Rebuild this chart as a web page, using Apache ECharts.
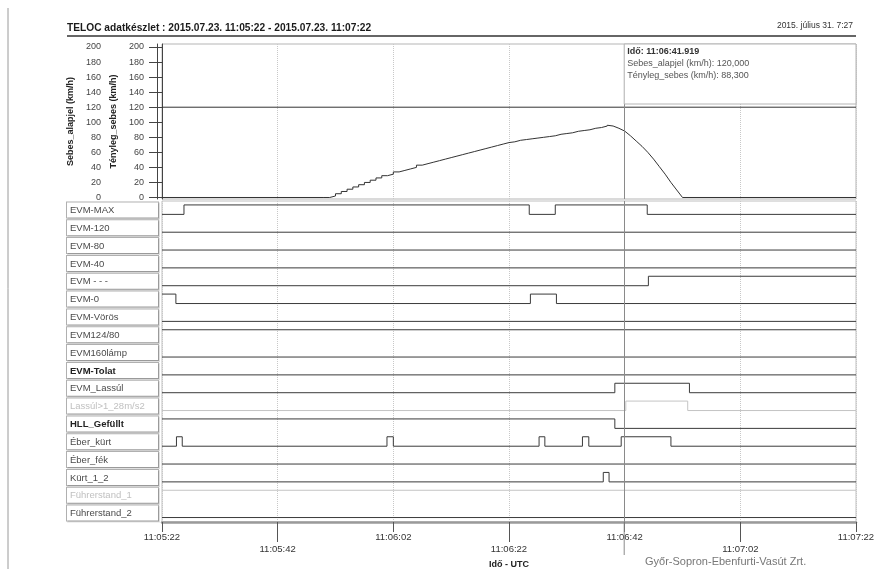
<!DOCTYPE html>
<html><head><meta charset="utf-8">
<script src="https://cdn.jsdelivr.net/npm/echarts@6/dist/echarts.min.js"></script>
<style>html,body{margin:0;padding:0;background:#fff}#c{width:894px;height:569px}</style>
</head><body><div id="c"></div>
<script>
// ---- data (time in seconds from 11:05:22) ----
const timeTickLabels = ['11:05:22','11:05:42','11:06:02','11:06:22','11:06:42','11:07:02','11:07:22'];
const speedTicks = [0,20,40,60,80,100,120,140,160,180,200];
const cursorTime = 79.919;
const cursorLabel = 'Idő: 11:06:41.919';
const cursorSetpoint = '120,000';
const cursorSpeed = '88,300';

const setpoint = [[0,120],[120,120]];
const speedRise = [[0,0],[28,0],[29,2],[30,5],[31,8],[32,11],[33,14],[34,17],[35,20],[36,23],[37,26],[38,29],[39,31],[40,34],[41,36],[42,38],[43,40],[44,43],[45,45],[46,47],[47,49],[48,51],[49,53],[50,55],[51,57],[52,59],[53,61],[54,63],[55,65],[56,67],[57,69],[58,71],[59,73],[60,74],[61,76],[62,77],[63,78],[64,79],[65,80],[66,81],[67,82],[68,84],[69,85],[70,86],[71,88],[72,89],[73,90],[74,92],[75,93],[76,95],[77,96]];
const speedBrake = [[77,96],[78,95],[79,92],[80,88.3],[81,82],[82,75],[83,68],[84,60],[85,51],[86,41],[87,31],[88,20],[89,10],[90,0],[120,0]];

const signalNames = ['EVM-MAX','EVM-120','EVM-80','EVM-40','EVM - - -','EVM-0','EVM-Vörös','EVM124/80','EVM160lámp','EVM-Tolat','EVM_Lassúl','Lassúl>1_28m/s2','HLL_Gefüllt','Éber_kürt','Éber_fék','Kürt_1_2','Führerstand_1','Führerstand_2'];
// [time, state] change points
const evmMax   = [[0,0],[3.8,1],[63.5,0],[68.0,1],[83.9,0],[120,0]];
const evm120   = [[0,0],[120,0]];
const evm80    = [[0,0],[120,0]];
const evm40    = [[0,0],[120,0]];
const evmDash  = [[0,0],[84.1,1],[120,1]];
const evm0     = [[0,1],[2.4,0],[63.7,1],[68.2,0],[120,0]];
const evmVoros = [[0,0],[120,0]];
const evm12480 = [[0,1],[120,1]];
const evm160   = [[0,0],[120,0]];
const evmTolat = [[0,0],[120,0]];
const evmLassul= [[0,0],[78.3,1],[91.2,0],[120,0]];
const lassul128= [[0,0],[80.2,1],[90.9,0],[120,0]];
const hllGef   = [[0,1],[78.3,0],[120,0]];
const eberKurt = [[0,0],[2.5,1],[3.5,0],[38.9,1],[40.0,0],[65.2,1],[66.2,0],[72.7,1],[73.8,0],[79.4,1],[88.0,0],[120,0]];
const eberFek  = [[0,0],[120,0]];
const kurt12   = [[0,0],[76.3,1],[77.3,0],[120,0]];
const fuhrer1  = [[0,1],[120,1]];
const fuhrer2  = [[0,0],[120,0]];
const signals = [evmMax,evm120,evm80,evm40,evmDash,evm0,evmVoros,evm12480,evm160,evmTolat,evmLassul,lassul128,hllGef,eberKurt,eberFek,kurt12,fuhrer1,fuhrer2];

// ---- styling ----
const F = '"Liberation Sans", Arial, sans-serif';
const N = '"Liberation Sans Narrow", "Liberation Sans", Arial, sans-serif';
const lightRows = new Set([11,16]);
const boldRows = new Set([9,12]);
const ROWS = signalNames.length;

const chart = echarts.init(document.getElementById('c'), null, {renderer:'canvas'});

const cursorLine = {
  silent:true, symbol:'none', label:{show:false}, animation:false,
  lineStyle:{color:'#8a8a8a', type:'solid', width:1},
  data:[{xAxis:cursorTime}]
};

const digitalSeries = signals.map((sig, i) => ({
  name: signalNames[i], type:'line', xAxisIndex:1, yAxisIndex:2, step:'end',
  symbol:'none', silent:true,
  lineStyle:{color: lightRows.has(i) ? '#c4c4c4' : '#3a3a3a', width:1},
  data: sig.map(p => [p[0], (ROWS-1-i) + 0.25 + 0.53*p[1]]),
  markLine: i === 0 ? cursorLine : undefined
}));

const boxBase = {width:88, height:14, padding:[1,0,0,3], borderColor:'#b0b0b0', borderWidth:1,
  fontSize:9.5, fontFamily:F, align:'left', verticalAlign:'middle',
  shadowColor:'rgba(0,0,0,0.12)', shadowOffsetX:1, shadowOffsetY:1, shadowBlur:0, backgroundColor:'#fff'};

const option = {
  animation:false,
  backgroundColor:'#fff',
  grid:[
    {left:162, right:38, top:44, height:155, show:true, borderColor:'#b5b5b5', borderWidth:1, outerBoundsMode:'none', containLabel:false},
    {left:162, right:38, top:201, height:321, show:true, borderColor:'#c0c0c0', borderWidth:1, outerBoundsMode:'none', containLabel:false}
  ],
  xAxis:[
    {gridIndex:0, type:'value', min:0, max:120, interval:20,
      axisLine:{show:false}, axisTick:{show:false}, axisLabel:{show:false},
      splitLine:{show:true, lineStyle:{type:'dotted', color:'#c8c8c8'}}},
    {gridIndex:1, type:'value', min:0, max:120, interval:20,
      axisLine:{show:true, onZero:false, lineStyle:{color:'#9a9a9a', width:2.5}},
      axisTick:{show:true, length:10, lineStyle:{color:'#555'}},
      axisLabel:{margin:9, fontSize:9.5, fontFamily:N, color:'#333', lineHeight:12,
        formatter:(v)=>{const k=Math.round(v/20); const t=timeTickLabels[k]||''; return k%2===1 ? '\n'+t : t;}},
      splitLine:{show:true, lineStyle:{type:'dotted', color:'#c8c8c8'}},
      name:'Idő - UTC', nameLocation:'middle', nameGap:30,
      nameTextStyle:{fontWeight:'bold', fontSize:9, fontFamily:F, color:'#222'}},
    {gridIndex:1, type:'value', min:0, max:120, position:'bottom',
      axisLine:{show:false}, axisLabel:{show:false}, splitLine:{show:false},
      axisTick:{show:true, length:20, customValues:[20,60,100], lineStyle:{color:'#555'}}}
  ],
  yAxis:[
    {gridIndex:0, type:'value', position:'left', offset:49, min:-2, max:204,
      name:'Sebes_alapjel (km/h)', nameLocation:'middle', nameRotate:90, nameGap:28,
      nameTextStyle:{fontWeight:'bold', fontSize:9, color:'#222', fontFamily:F},
      axisLine:{show:true, lineStyle:{color:'#444'}},
      axisTick:{show:true, length:6, customValues:speedTicks, lineStyle:{color:'#444'}},
      axisLabel:{customValues:speedTicks, margin:12, fontSize:9, fontFamily:N, color:'#444'},
      splitLine:{show:false}},
    {gridIndex:0, type:'value', position:'left', offset:5, min:-2, max:204,
      name:'Tényleg_sebes (km/h)', nameLocation:'middle', nameRotate:90, nameGap:28,
      nameTextStyle:{fontWeight:'bold', fontSize:9, color:'#222', fontFamily:F},
      axisLine:{show:true, lineStyle:{color:'#444'}},
      axisTick:{show:true, length:8, customValues:speedTicks, lineStyle:{color:'#444'}},
      axisLabel:{customValues:speedTicks, margin:13, fontSize:9, fontFamily:N, color:'#444'},
      splitLine:{show:false}},
    {gridIndex:1, type:'value', min:0, max:ROWS, show:false},
    {gridIndex:1, type:'category', data:signalNames, inverse:true, position:'left',
      axisLine:{show:false}, axisTick:{show:false}, splitLine:{show:false},
      axisLabel:{margin:4, interval:0,
        formatter:(v, i)=>{const k=signalNames.indexOf(v); const c=lightRows.has(k)?'l':(boldRows.has(k)?'b':'n'); return '{'+c+'|'+v+'}';},
        rich:{
          n:Object.assign({}, boxBase, {color:'#4a4a4a'}),
          l:Object.assign({}, boxBase, {color:'#c0c0c0'}),
          b:Object.assign({}, boxBase, {color:'#222', fontWeight:'bold'})
        }}}
  ],
  series:[
    {name:'Sebes_alapjel (km/h)', type:'line', xAxisIndex:0, yAxisIndex:0, symbol:'none', silent:true,
      lineStyle:{color:'#333', width:1}, data:setpoint, markLine:cursorLine},
    {name:'Tényleg_sebes (km/h)', type:'line', xAxisIndex:0, yAxisIndex:1, symbol:'none', silent:true, step:'end',
      lineStyle:{color:'#333', width:1}, data:speedRise},
    {name:'Tényleg_sebes (km/h)', type:'line', xAxisIndex:0, yAxisIndex:1, symbol:'none', silent:true,
      lineStyle:{color:'#333', width:1}, data:speedBrake}
  ].concat(digitalSeries)
};
chart.setOption(option);

const cx = chart.convertToPixel({xAxisIndex:0}, cursorTime);
const gx = chart.convertToPixel({xAxisIndex:0}, 120);
const axisY = chart.convertToPixel({yAxisIndex:2}, 0);
chart.setOption({
  graphic:[
    {type:'line', shape:{x1:8, y1:8, x2:8, y2:569}, style:{stroke:'#9a9a9a', lineWidth:1}, silent:true},
    {type:'text', left:67, top:23, style:{text:'TELOC adatkészlet : 2015.07.23. 11:05:22 - 2015.07.23. 11:07:22', font:'bold 10.2px '+F, fill:'#1a1a1a'}, silent:true},
    {type:'line', shape:{x1:67, y1:36, x2:gx, y2:36}, style:{stroke:'#333', lineWidth:1.5}, silent:true},
    {type:'text', right:894-853, top:21, style:{text:'2015. július 31. 7:27', font:'8.5px '+F, fill:'#333', align:'right'}, silent:true},
    {type:'text', left:645, top:556, style:{text:'Győr-Sopron-Ebenfurti-Vasút Zrt.', font:'11px '+F, fill:'#777'}, silent:true},
    {type:'line', shape:{x1:cx, y1:axisY, x2:cx, y2:555}, style:{stroke:'#8a8a8a', lineWidth:1}, silent:true, z:10},
    {type:'rect', shape:{x:cx, y:44, width:gx-cx, height:60}, style:{fill:'#fff', stroke:'#b5b5b5', lineWidth:1}, silent:true, z:20},
    {type:'text', x:cx+3, y:47, z:21, silent:true, style:{text:cursorLabel, font:'bold 9px '+F, fill:'#333'}},
    {type:'text', x:cx+3, y:59, z:21, silent:true, style:{text:'Sebes_alapjel (km/h): '+cursorSetpoint, font:'9px '+F, fill:'#555'}},
    {type:'text', x:cx+3, y:71, z:21, silent:true, style:{text:'Tényleg_sebes (km/h): '+cursorSpeed, font:'9px '+F, fill:'#555'}}
  ]
});
</script></body></html>
